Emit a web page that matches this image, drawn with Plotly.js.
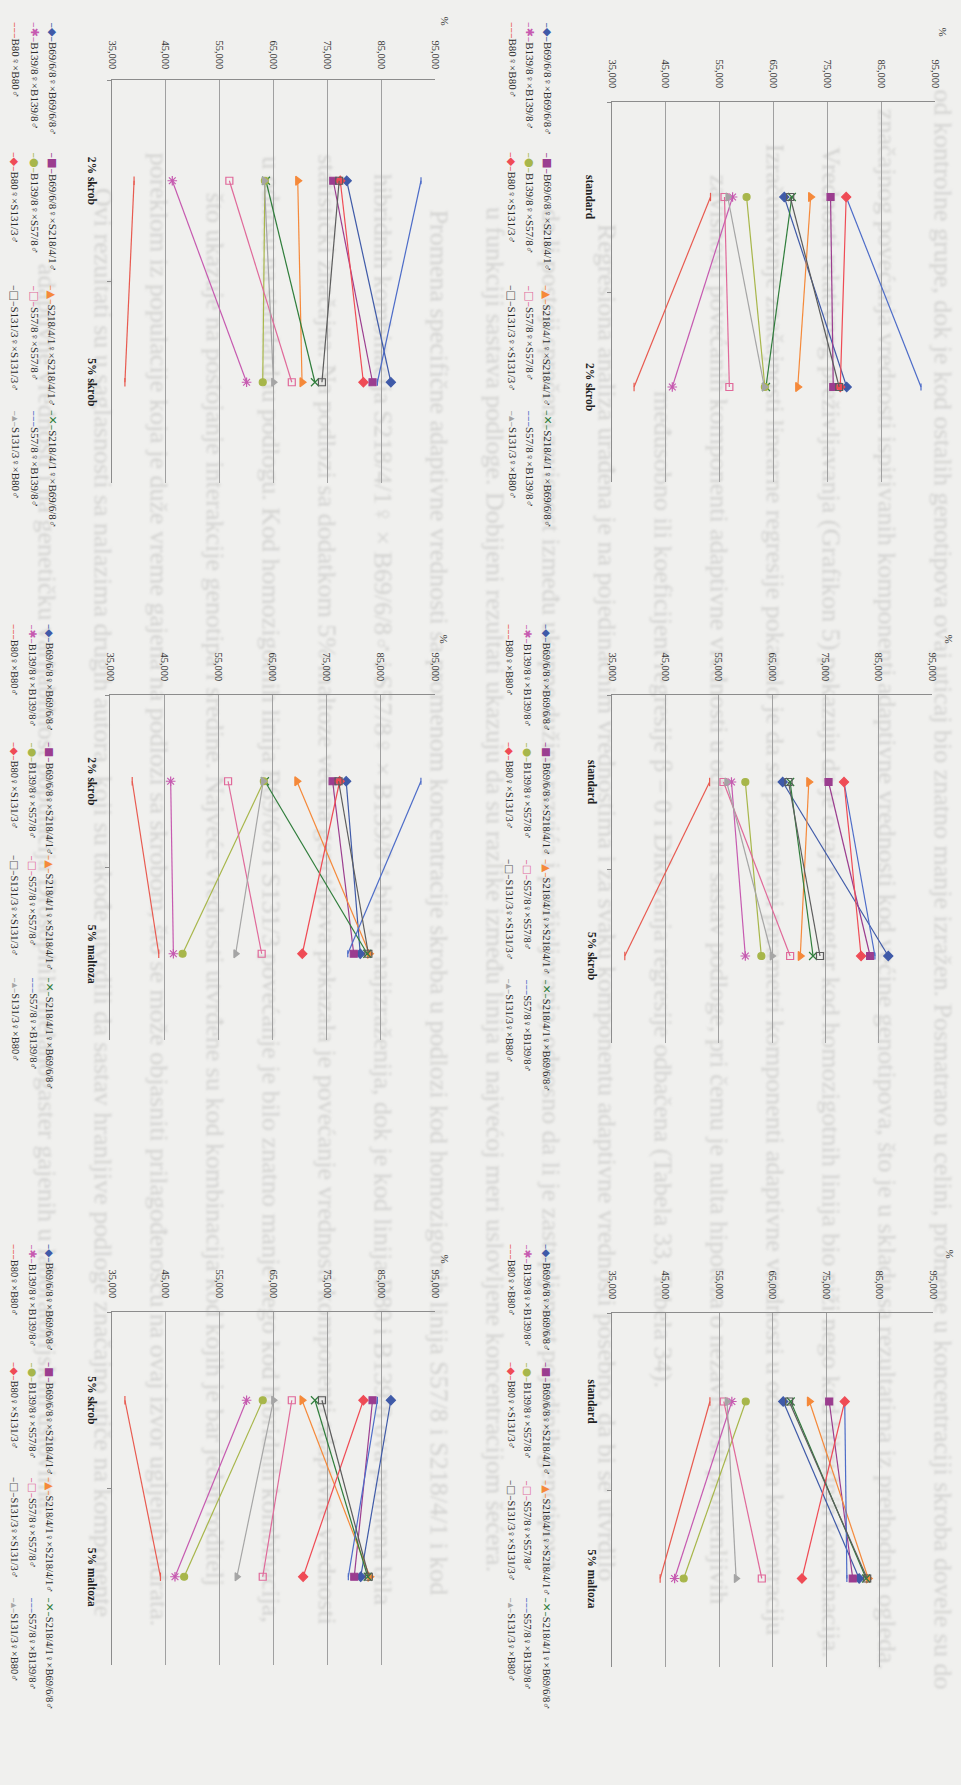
<!DOCTYPE html>
<html>
<head>
<meta charset="utf-8">
<script src="https://cdn.plot.ly/plotly-3.0.1.min.js"></script>
<style>
html,body{margin:0;padding:0;background:#f0f0ee;}
#chart{width:961px;height:1785px;}
#chart .shapelayer text{filter:blur(0.9px);}
</style>
</head>
<body>
<div id="chart"></div>
<script>
// ---------------- DATA ----------------
const categories = ['standard', '2% skrob', '5% skrob', '5% maltoza'];
const seriesNames = [
  'B69/6/8♀×B69/6/8♂', 'B69/6/8♀×S218/4/1♂', 'S218/4/1♀×S218/4/1♂', 'S218/4/1♀×B69/6/8♂',
  'B139/8♀×B139/8♂', 'B139/8♀×S57/8♂', 'S57/8♀×S57/8♂', 'S57/8♀×B139/8♂',
  'B80♀×B80♂', 'B80♀×S131/3♂', 'S131/3♀×S131/3♂', 'S131/3♀×B80♂'
];
const standardValues  = [67.0, 75.6, 71.9, 68.4, 57.4, 60.0, 55.9, 78.5, 53.3, 78.5, 68.1, 56.5];
const skrob2Values    = [78.6, 76.1, 69.5, 63.6, 46.2, 63.4, 56.8, 92.4, 39.1, 77.4, 77.2, 63.3];
const skrob5Values    = [86.8, 83.4, 70.3, 72.7, 60.0, 63.0, 68.4, 84.3, 37.4, 81.7, 74.0, 65.0];
const maltoza5Values  = [81.2, 80.0, 82.9, 82.5, 46.7, 48.4, 63.0, 78.9, 44.0, 70.5, 82.7, 58.2];
const panelPairs = [
  ['2% skrob', '5% skrob'], ['standard', '2% skrob'],
  ['2% skrob', '5% maltoza'], ['standard', '5% skrob'],
  ['5% skrob', '5% maltoza'], ['standard', '5% maltoza']
];
const valueTicks = [35, 45, 55, 65, 75, 85, 95];
const valueAxisTitle = '%';

// faint text of the scanned page behind the charts
const pageLines = [
  'od kontrolne grupe, dok je kod ostalih genotipova ovaj uticaj bio znatno manje izražen. Posmatrano u celini, promene u koncentraciji skroba dovele su do',
  'značajnog povećanja vrednosti ispitivanih komponenti adaptivne vrednosti kod većine genotipova, što je u skladu sa rezultatima iz prethodnih ogleda.',
  '    Vrednosti relativnog preživljavanja (Grafikon 5) pokazuju da je ovaj parametar kod homozigotnih linija bio niži nego kod hibridnih kombinacija.',
  'Izračunavanje značajnosti linearne regresije pokazalo je da su posmatrani parametri komponenti adaptivne vrednosti u odnosu na koncentraciju',
  'zavisnosti povećanih komponenti adaptivne vrednosti u odnosu na sastav podloge, pri čemu je nulta hipoteza o nezavisnosti promenljivih',
  'međusobno ili koeficijent regresije β = 0 i Dikovanja regresije odbačena (Tabela 33, Tabela 34).',
  '    Regresiona analiza urađena je na pojedinačnim vrednostima i za svaku komponentu adaptivne vrednosti posebno, da bi se utvrdilo',
  'da li postoji sprečena zavisnost između ukupne dužine razvića i preživljavanja, odnosno da li je zastupljenost pojedinih genotipova',
  'u funkciji sastava podloge. Dobijeni rezultati ukazuju da su razlike između linija u najvećoj meri uslovljene koncentracijom šećera.',
  '    Promena specifične adaptivne vrednosti sa promenom koncentracije skroba u podlozi kod homozigotnih linija S57/8 i S218/4/1 i kod',
  'hibridnih kombinacija S218/4/1♀ × B69/6/8♂ i S57/8♀ × B139/8♂ bila je najizraženija, dok je kod linija B80 i B139/8 ova promena bila',
  'statistički značajna. Na podlozi sa dodatkom 5% maltoze većina genotipova pokazala je povećanje vrednosti komponenti adaptivne vrednosti',
  'u odnosu na standardnu podlogu. Kod homozigotnih linija B69/6/8 i S131/3 povećanje je bilo znatno manje nego kod hibridnih kombinacija,',
  'što ukazuje na postojanje interakcije genotipa i sredine. Najveće vrednosti utvrđene su kod kombinacija kod kojih je bar jedan roditelj',
  'poreklom iz populacije koja je duže vreme gajena na podlozi sa skrobom, što se može objasniti prilagođenošću na ovaj izvor ugljenih hidrata.',
  '    Ovi rezultati su u saglasnosti sa nalazima drugih autora, koji su takođe utvrdili da sastav hranljive podloge značajno utiče na komponente',
  'adaptivne vrednosti i na genetičku varijabilnost populacija Drosophila melanogaster gajenih u laboratorijskim uslovima.'
];

// ---------------- STYLE / LAYOUT CONFIG ----------------
const seriesColors = ['#3f5aa8', '#9b3d8f', '#f5893a', '#2f7d3b', '#c65ab0', '#a7b64a',
                      '#e0699a', '#4d6cc8', '#e85a50', '#ef4b55', '#5c5c5c', '#a5a5a5'];
const seriesSymbols = ['diamond', 'square', 'triangle-right', 'x-thin-open', 'asterisk-open', 'circle',
                       'square-open', 'line-ns-open', 'line-ns-open', 'diamond', 'square-open', 'triangle-right'];
const seriesSizes = [7, 7, 8, 8, 8, 7, 7, 5, 6, 7, 7, 7];
const legendGlyphs = ['◆', '■', '▲', '✕', '✱', '●', '□', '–', '–', '◆', '□', '▴'];

const W = 961, H = 1785;
const panelBoxes = [
  {l: 112, r: 435, t: 80,   b: 483,  tickOff: 6, pctUp: 53, pctX: 9,  catX: -20, leg: [52, 34, 15],    legY: [20, 150, 283, 408],     fs: 11},
  {l: 612, r: 935, t: 102,  b: 482,  tickOff: 9, pctUp: 64, pctX: 8,  catX: -22, leg: [547, 529, 512], legY: [20, 150, 283, 408],     fs: 11},
  {l: 110, r: 435, t: 695,  b: 1040, tickOff: 9, pctUp: 50, pctX: 8,  catX: -18, leg: [50, 33, 15],    legY: [622, 740, 853, 975],    fs: 10.5},
  {l: 612, r: 932, t: 695,  b: 1043, tickOff: 9, pctUp: 50, pctX: 16, catX: -20, leg: [547, 528, 510], legY: [622, 740, 857, 977],    fs: 10.5},
  {l: 112, r: 435, t: 1312, b: 1665, tickOff: 9, pctUp: 47, pctX: 10, catX: -20, leg: [50, 33, 15],    legY: [1242, 1360, 1475, 1595], fs: 10.5},
  {l: 612, r: 933, t: 1313, b: 1667, tickOff: 9, pctUp: 53, pctX: 17, catX: -20, leg: [547, 528, 512], legY: [1242, 1360, 1478, 1595], fs: 10.5}
];

const valuesByCategory = {
  'standard': standardValues, '2% skrob': skrob2Values,
  '5% skrob': skrob5Values, '5% maltoza': maltoza5Values
};

const SERIF = 'Liberation Serif, Times New Roman, serif';
const traces = [];
const annotations = [];
const shapes = [];
const layout = {
  width: W, height: H,
  margin: {l: 0, r: 0, t: 0, b: 0},
  paper_bgcolor: '#f0f0ee',
  plot_bgcolor: 'rgba(0,0,0,0)',
  showlegend: false,
  separators: ',.',
  font: {family: SERIF, color: '#2a2a2a'}
};

// faint background page text (drawn below everything)
pageLines.forEach((line, i) => {
  const px = 932 - 56 * i;
  shapes.push({
    type: 'line', xref: 'paper', yref: 'paper', layer: 'below',
    x0: px / W, x1: px / W, y0: 1.02, y1: -0.02,
    line: {color: 'rgba(0,0,0,0)', width: 1},
    label: {text: line, textangle: 90, textposition: 'middle',
            font: {family: SERIF, size: 26, color: '#d2d2d0'}}
  });
});

panelBoxes.forEach((box, p) => {
  const n = p === 0 ? '' : String(p + 1);
  const xa = 'xaxis' + n, ya = 'yaxis' + n;
  const pair = panelPairs[p];

  layout[xa] = {
    domain: [box.l / W, box.r / W],
    anchor: 'y' + n, side: 'top',
    range: [valueTicks[0], valueTicks[valueTicks.length - 1]],
    tickmode: 'array', tickvals: valueTicks,
    tickformat: '.3f', tickangle: 90,
    ticks: '', ticklabelstandoff: box.tickOff,
    tickfont: {family: SERIF, size: 10.5, color: '#333'},
    showline: true, linecolor: '#8c8c8c', linewidth: 1,
    showgrid: true, gridcolor: '#a0a0a0', gridwidth: 1,
    zeroline: false, fixedrange: true
  };
  layout[ya] = {
    domain: [1 - box.b / H, 1 - box.t / H],
    anchor: 'x' + n,
    type: 'category', categoryorder: 'array', categoryarray: pair,
    range: [1.5, -0.5],
    tickson: 'boundaries', ticks: 'outside', ticklen: 4, tickcolor: '#8c8c8c',
    showticklabels: false,
    showline: true, linecolor: '#8c8c8c', linewidth: 1,
    showgrid: false, zeroline: false, fixedrange: true
  };

  // category labels (rotated, like the page)
  pair.forEach(cat => {
    annotations.push({
      xref: 'x' + n, yref: 'y' + n,
      x: valueTicks[0], y: cat,
      xanchor: 'center', yanchor: 'middle', xshift: box.catX,
      text: '<b>' + cat + '</b>', textangle: 90, showarrow: false,
      font: {family: SERIF, size: 11.5, color: '#222'}
    });
  });

  // axis title "%"
  annotations.push({
    xref: 'x' + n, yref: 'y' + n + ' domain',
    x: valueTicks[valueTicks.length - 1], y: 1,
    xanchor: 'center', yanchor: 'bottom',
    xshift: box.pctX, yshift: box.pctUp,
    text: valueAxisTitle, textangle: 90, showarrow: false,
    font: {family: SERIF, size: 11, color: '#333'}
  });

  // series
  seriesNames.forEach((name, s) => {
    traces.push({
      type: 'scatter', mode: 'lines+markers',
      x: pair.map(c => valuesByCategory[c][s]),
      y: pair,
      xaxis: 'x' + n, yaxis: 'y' + n,
      name: name, showlegend: false, cliponaxis: false,
      line: {color: seriesColors[s], width: 1.2},
      marker: {symbol: seriesSymbols[s], size: seriesSizes[s], color: seriesColors[s],
               line: {color: seriesColors[s], width: 1.2}},
      hoverinfo: 'x+name'
    });
  });

  // legend (rotated, as on the scanned page)
  seriesNames.forEach((name, s) => {
    const row = Math.floor(s / 4), col = s % 4;
    const glyph = legendGlyphs[s];
    const sym = '<span style="color:' + seriesColors[s] + ';font-family:DejaVu Sans">–' + glyph + '–</span>';
    annotations.push({
      xref: 'paper', yref: 'paper',
      x: box.leg[row] / W, y: 1 - box.legY[col] / H,
      xanchor: 'center', yanchor: 'top',
      text: sym + name, textangle: 90, showarrow: false,
      font: {family: SERIF, size: box.fs, color: '#2a2a2a'}
    });
  });
});

layout.annotations = annotations;
layout.shapes = shapes;

Plotly.newPlot('chart', traces, layout, {staticPlot: true, displayModeBar: false});
</script>
</body>
</html>
